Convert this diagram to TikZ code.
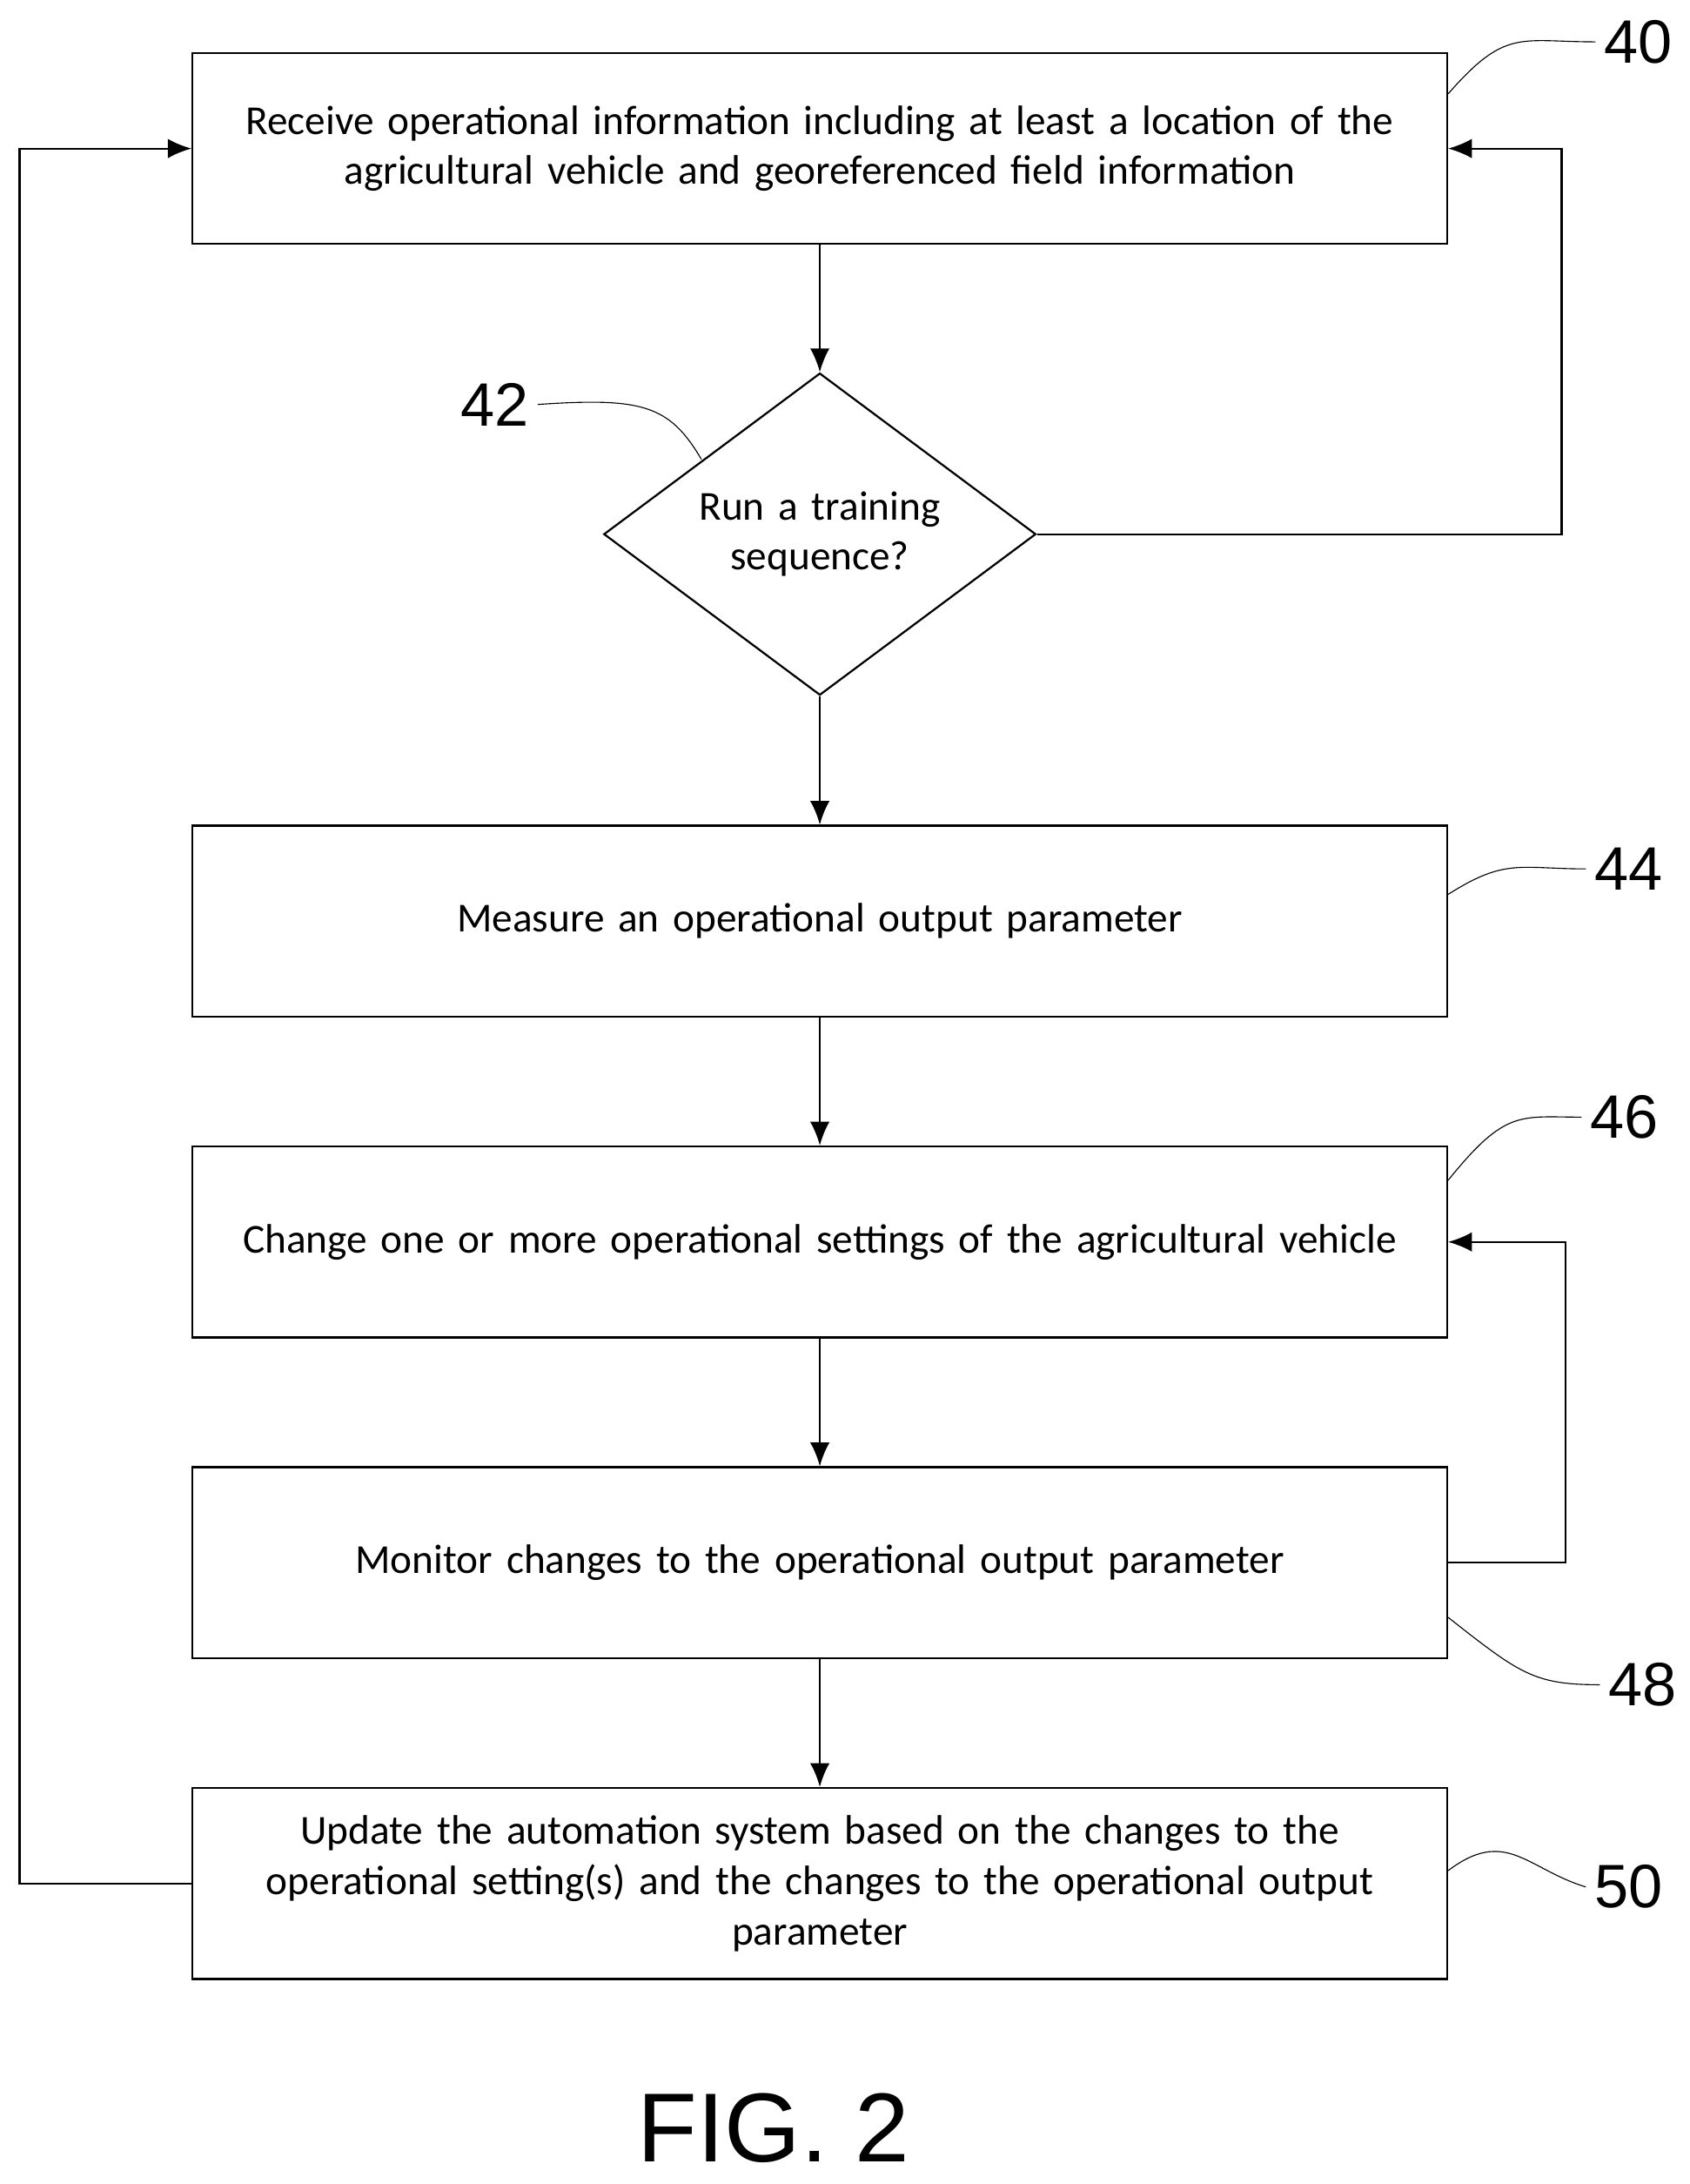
\documentclass[tikz,border=0pt]{standalone}
\usepackage{fontspec}
\setmainfont{Carlito}
\newfontfamily\numfont{Liberation Sans}
\usetikzlibrary{positioning, shapes.geometric, arrows.meta}

\begin{document}
\begin{tikzpicture}[x=0.02cm, y=-0.02cm]
\tikzstyle{stage} = [rectangle, draw=black, thick, align=center, minimum width=18cm, minimum height=2.74cm, text width=17.6cm, font=\fontsize{16.8}{20.5}\selectfont]
\tikzstyle{ask}   = [diamond, draw=black, thick, inner sep=0pt, aspect=1.34, minimum width=6.2cm, minimum height=4.62cm, text width=3.8cm, align=center, font=\fontsize{16.8}{20.5}\selectfont]
\tikzstyle{flow}  = [-{Latex[length=3.4mm, width=2.8mm]}, thick, black]
\tikzstyle{ref}   = [font=\numfont\fontsize{25}{25}\selectfont]
\tikzstyle{lead}  = [black, thin]
\useasboundingbox (0,0) rectangle (1212,1566);
\node[stage] at (588, 106.5)  (s40){Receive operational information including at least a location of the\\ agricultural vehicle and georeferenced field information};
\node[ask]   at (588, 383)    (s42){Run a training\\ sequence?};
\node[stage] at (588, 660.5)  (s44){Measure an operational output parameter};
\node[stage] at (588, 890.5)  (s46){Change one or more operational settings of the agricultural vehicle};
\node[stage] at (588, 1120.5) (s48){Monitor changes to the operational output parameter};
\node[stage] at (588, 1350.5) (s50){Update the automation system based on the changes to the\\ operational setting(s) and the changes to the operational output\\ parameter};
\node[ref] at (1175, 30)   (n40){40};
\node[ref] at (355, 290)   (n42){42};
\node[ref] at (1168, 623)  (n44){44};
\node[ref] at (1165, 801)  (n46){46};
\node[ref] at (1178, 1208) (n48){48};
\node[ref] at (1168, 1353) (n50){50};
\node[font=\numfont\fontsize{40}{40}\selectfont] at (555, 1526) (fig){FIG. 2};
\coordinate (r40) at (1120, 106.5);
\coordinate (r42) at (1120, 383);
\coordinate (l50) at (14, 1350.5);
\coordinate (l40) at (14, 106.5);
\coordinate (r48) at (1123, 1120.5);
\coordinate (r46) at (1123, 890.5);
\draw[flow] (s40) -- (s42);
\draw[flow] (s42) -- (s44);
\draw[flow] (s44) -- (s46);
\draw[flow] (s46) -- (s48);
\draw[flow] (s48) -- (s50);
\draw[flow] (s42.east) -- (r42) -- (r40) -- (s40.east);
\draw[flow] (s50.west) -- (l50) -- (l40) -- (s40.west);
\draw[flow] (s48.east) -- (r48) -- (r46) -- (s46.east);
% leaders
\draw[lead] ([yshift=-0.6cm]s40.north east) .. controls (1080, 20) and (1090, 30) .. (n40.west);
\draw[lead] (n42.east) .. controls (460, 285) and (480, 290) .. ([shift={(-1.7cm,-1.25cm)}]s42.north);
\draw[lead] ([yshift=-1cm]s44.north east) .. controls (1080, 615) and (1090, 623) .. (n44.west);
\draw[lead] ([yshift=-0.5cm]s46.north east) .. controls (1080, 795) and (1090, 801) .. (n46.west);
\draw[lead] ([yshift=0.6cm]s48.south east) .. controls (1090, 1200) and (1100, 1208) .. (n48.west);
\draw[lead] ([yshift=-1.2cm]s50.north east) .. controls (1080, 1310) and (1095, 1340) .. (n50.west);
\end{tikzpicture}
\end{document}
